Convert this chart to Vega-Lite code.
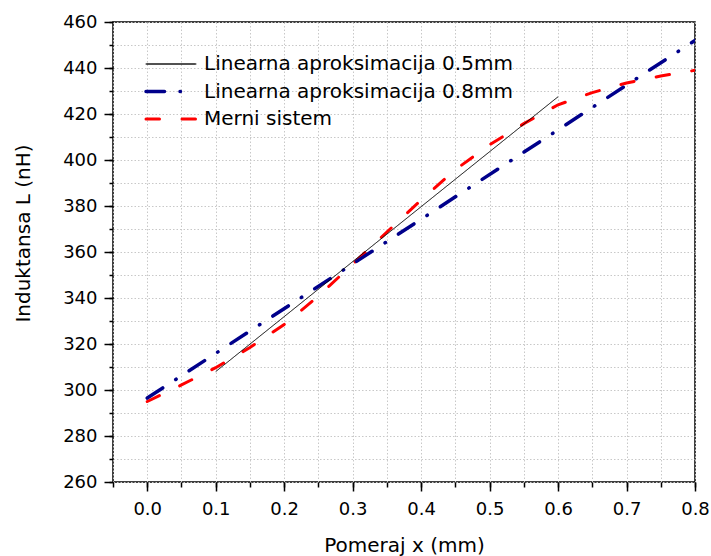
{
  "$schema": "https://vega.github.io/schema/vega-lite/v6.json",
  "width": 582,
  "height": 460,
  "autosize": {"type": "none"},
  "padding": {"left": 113, "top": 22, "right": 16, "bottom": 74},
  "background": "white",
  "config": {
    "view": {"stroke": "black", "strokeWidth": 1.5},
    "font": "DejaVu Sans",
    "axis": {"labelFont": "DejaVu Sans", "titleFont": "DejaVu Sans", "labelColor": "black", "titleColor": "black", "tickColor": "black", "tickWidth": 1.5, "domain": false, "titleFontWeight": "normal"}
  },
  "data": {
    "values": [
      {"series": "Linearna aproksimacija 0.5mm", "x": 0.1, "y": 308},
      {"series": "Linearna aproksimacija 0.5mm", "x": 0.6, "y": 427.5},
      {"series": "Linearna aproksimacija 0.8mm", "x": 0.0, "y": 296.5},
      {"series": "Linearna aproksimacija 0.8mm", "x": 0.8, "y": 452},
      {"series": "Merni sistem", "x": 0.0, "y": 295},
      {"series": "Merni sistem", "x": 0.05, "y": 302.2},
      {"series": "Merni sistem", "x": 0.1, "y": 309.7},
      {"series": "Merni sistem", "x": 0.15, "y": 318.5},
      {"series": "Merni sistem", "x": 0.2, "y": 328.5},
      {"series": "Merni sistem", "x": 0.25, "y": 340.8},
      {"series": "Merni sistem", "x": 0.3, "y": 354.7},
      {"series": "Merni sistem", "x": 0.35, "y": 368.7},
      {"series": "Merni sistem", "x": 0.4, "y": 382.6},
      {"series": "Merni sistem", "x": 0.45, "y": 395.8},
      {"series": "Merni sistem", "x": 0.5, "y": 406.6},
      {"series": "Merni sistem", "x": 0.55, "y": 415.8},
      {"series": "Merni sistem", "x": 0.6, "y": 424},
      {"series": "Merni sistem", "x": 0.65, "y": 429.3},
      {"series": "Merni sistem", "x": 0.7, "y": 433.5},
      {"series": "Merni sistem", "x": 0.75, "y": 436.5},
      {"series": "Merni sistem", "x": 0.8, "y": 439}
    ]
  },
  "resolve": {"axis": {"x": "independent", "y": "independent"}},
  "layer": [
    {
      "transform": [{"filter": "datum.series === 'Merni sistem'"}],
      "mark": {"type": "line", "strokeWidth": 3, "strokeCap": "round", "clip": true},
      "encoding": {
        "x": {"field": "x", "type": "quantitative", "scale": {"domain": [-0.05, 0.8], "nice": false, "zero": false},
          "axis": {"orient": "bottom", "values": [-0.05, 0, 0.05, 0.1, 0.15, 0.2, 0.25, 0.3, 0.35, 0.4, 0.45, 0.5, 0.55, 0.6, 0.65, 0.7, 0.75, 0.8], "labels": false, "tickSize": 5, "grid": true, "gridColor": "#c8c8c8", "gridDash": [1.5, 2], "gridWidth": 1, "title": null}},
        "y": {"field": "y", "type": "quantitative", "scale": {"domain": [260, 460], "nice": false, "zero": false},
          "axis": {"orient": "left", "values": [260, 270, 280, 290, 300, 310, 320, 330, 340, 350, 360, 370, 380, 390, 400, 410, 420, 430, 440, 450, 460], "labels": false, "tickSize": 4, "grid": true, "gridColor": "#c8c8c8", "gridDash": [1.5, 2], "gridWidth": 1, "title": null}},
        "color": {"field": "series", "type": "nominal",
          "scale": {"domain": ["Linearna aproksimacija 0.5mm", "Linearna aproksimacija 0.8mm", "Merni sistem"], "range": ["#000000", "#00008b", "#ff0000"]},
          "legend": {"orient": "none", "legendX": 48, "legendY": 32, "title": null, "symbolType": "stroke", "symbolSize": 2500, "labelFont": "DejaVu Sans", "labelFontSize": 20, "labelColor": "black", "labelOffset": 23, "labelLimit": 500, "rowPadding": 7.5, "padding": 0,
            "encode": {"symbols": {"update": {"strokeCap": {"value": "round"}, "strokeWidth": {"signal": "datum.value === 'Linearna aproksimacija 0.5mm' ? 1 : (datum.value === 'Merni sistem' ? 3 : 3.5)"}}}}}},
        "strokeDash": {"field": "series", "type": "nominal",
          "scale": {"domain": ["Linearna aproksimacija 0.5mm", "Linearna aproksimacija 0.8mm", "Merni sistem"], "range": [[1, 0], [18.5, 15.5, 0.5, 15.5], [13.5, 22.5]]},
          "legend": {"orient": "none", "legendX": 48, "legendY": 32, "title": null, "symbolType": "stroke", "symbolSize": 2500, "labelFont": "DejaVu Sans", "labelFontSize": 20, "labelColor": "black", "labelOffset": 23, "labelLimit": 500, "rowPadding": 7.5, "padding": 0,
            "encode": {"symbols": {"update": {"strokeCap": {"value": "round"}, "strokeWidth": {"signal": "datum.value === 'Linearna aproksimacija 0.5mm' ? 1 : (datum.value === 'Merni sistem' ? 3 : 3.5)"}}}}}}
      }
    },
    {
      "transform": [{"filter": "datum.series === 'Linearna aproksimacija 0.8mm'"}],
      "mark": {"type": "line", "strokeWidth": 3.5, "strokeCap": "round", "clip": true},
      "encoding": {
        "x": {"field": "x", "type": "quantitative",
          "axis": {"orient": "bottom", "values": [0, 0.1, 0.2, 0.3, 0.4, 0.5, 0.6, 0.7, 0.8], "format": ".1f", "labelFontSize": 18, "labelPadding": 9, "labelFlush": false, "labelOverlap": false, "tickSize": 9, "grid": false, "title": "Pomeraj x (mm)", "titleFontSize": 20, "titleBaseline": "alphabetic", "titleY": 69}},
        "y": {"field": "y", "type": "quantitative",
          "axis": {"orient": "left", "values": [260, 280, 300, 320, 340, 360, 380, 400, 420, 440, 460], "labelFontSize": 18, "labelPadding": 7, "labelFlush": false, "labelOverlap": false, "tickSize": 9, "grid": false, "title": "Induktansa L (nH)", "titleFontSize": 20, "titleBaseline": "alphabetic", "titleX": -84, "titleY": 211, "titleAngle": -90}},
        "color": {"field": "series", "type": "nominal"},
        "strokeDash": {"field": "series", "type": "nominal"}
      }
    },
    {
      "transform": [{"filter": "datum.series === 'Linearna aproksimacija 0.5mm'"}],
      "mark": {"type": "line", "strokeWidth": 1, "clip": true},
      "encoding": {
        "x": {"field": "x", "type": "quantitative", "axis": null},
        "y": {"field": "y", "type": "quantitative", "axis": null},
        "color": {"field": "series", "type": "nominal"},
        "strokeDash": {"field": "series", "type": "nominal"}
      }
    }
  ]
}
